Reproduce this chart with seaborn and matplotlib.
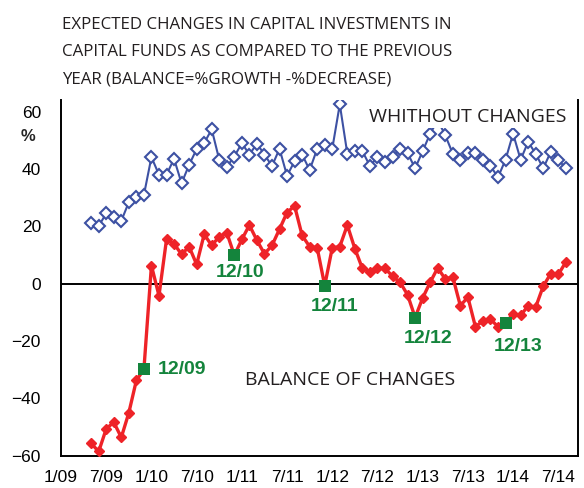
"""
Expected changes in capital investments (balance vs. without changes)
"""

import numpy as np
import pandas as pd
import matplotlib
matplotlib.use("Agg")
import matplotlib.pyplot as plt
import seaborn as sns

# ==================== data ====================
months = pd.date_range("2009-05-01", "2014-08-01", freq="MS")

without_changes = [
    21.3, 20.1, 24.5, 23.3, 21.9, 28.4, 30.3, 30.9,
    44.1, 38.0, 38.0, 43.5, 35.0, 41.4, 46.9, 49.0, 53.8, 43.2, 40.8, 44.3,
    49.0, 45.0, 48.8, 45.0, 41.0, 47.0, 37.6, 42.7, 45.0, 39.6, 47.0, 48.5,
    47.0, 62.5, 45.3, 46.2, 46.2, 41.0, 44.1, 42.3, 44.1, 47.0, 45.5, 40.2,
    46.2, 52.3, 57.0, 51.7, 45.3, 43.2, 45.6, 45.6, 43.2, 41.0, 37.1, 43.2,
    52.3, 43.2, 49.4, 45.3, 40.2, 45.9, 43.2, 40.2,
]

balance = [
    -55.7, -58.5, -50.6, -48.3, -53.6, -45.0, -33.7, -29.9,
    6.3, -4.2, 15.4, 13.9, 10.2, 12.9, 6.7, 17.2, 13.3, 16.4, 17.8, 9.9,
    15.4, 20.4, 15.1, 10.4, 13.3, 19.0, 24.8, 27.1, 16.8, 12.9, 12.5, -0.7,
    12.5, 12.9, 20.4, 12.2, 5.3, 4.1, 5.5, 5.3, 2.6, 0.5, -3.9, -11.8,
    -5.0, 0.5, 5.5, 1.6, 2.3, -7.7, -4.7, -15.0, -13.0, -12.4, -15.0, -13.8,
    -10.5, -11.1, -7.7, -8.2, -0.9, 3.5, 3.2, 7.5,
]

x_tick_labels = ["1/09", "7/09", "1/10", "7/10", "1/11", "7/11",
                 "1/12", "7/12", "1/13", "7/13", "1/14", "7/14"]
y_ticks = [-60, -40, -20, 0, 20, 40, 60]

title = ("EXPECTED CHANGES IN CAPITAL INVESTMENTS IN\n"
         "CAPITAL FUNDS AS COMPARED TO THE PREVIOUS\n"
         "YEAR (BALANCE=%GROWTH -%DECREASE)")

# 月份序号 (0 = 1/09)
df = pd.DataFrame({"month": months, "without": without_changes, "balance": balance})
df["m"] = (df["month"].dt.year - 2009) * 12 + df["month"].dt.month - 1
dec = df[df["month"].dt.month == 12].copy()
dec["label"] = dec["month"].dt.strftime("%m/%y")

# ==================== style ====================
BLUE = "#3d51a3"
RED = "#ee2328"
GREEN = "#14843c"

sns.set_style("white")
plt.rcParams["font.family"] = ["Liberation Sans", "DejaVu Sans"]

fig = plt.figure(figsize=(5.84, 4.88), dpi=100)
ax = fig.add_axes([0.1045, 0.066, 0.885, 0.729])

ax.axhline(0, color="black", linewidth=1.4, zorder=1)

sns.lineplot(data=df, x="m", y="without", ax=ax, color=BLUE, linewidth=1.5,
             marker="D", markersize=6, markerfacecolor="white",
             markeredgecolor=BLUE, markeredgewidth=1.5, zorder=3)
sns.lineplot(data=df, x="m", y="balance", ax=ax, color=RED, linewidth=2.4,
             marker="D", markersize=5, markerfacecolor=RED,
             markeredgecolor=RED, markeredgewidth=1, zorder=4)
sns.scatterplot(data=dec, x="m", y="balance", ax=ax, color=GREEN, marker="s",
                s=80, linewidth=0, zorder=5)

# 标签偏移 (像素)
offsets = [(14, 0), (6, -17), (10, -21), (13, -21), (13, -23)]
aligns = ["left", "center", "center", "center", "center"]
for (_, row), off, ha in zip(dec.iterrows(), offsets, aligns):
    ax.annotate(row["label"], (row["m"], row["balance"]), xytext=off,
                textcoords="offset pixels", ha=ha, va="center",
                color=GREEN, fontsize=14, fontweight="bold", zorder=6)

# 注释文字 (图像坐标, 原点在左下)
ax.text(0.80, 1 - 117 / 488, "WHITHOUT CHANGES", transform=fig.transFigure,
        fontsize=14, family=["Open Sans", "DejaVu Sans"], ha="center", va="center",
        color="#231f20", zorder=7,
        bbox=dict(boxstyle="square,pad=0.08", facecolor="white", edgecolor="none"))
ax.text(350 / 584, 1 - 380 / 488, "BALANCE OF CHANGES", transform=fig.transFigure,
        fontsize=14, family=["Open Sans", "DejaVu Sans"], ha="center", va="center",
        color="#231f20")

# ==================== axes ====================
ax.set_xlim(0, 68.6)
ax.set_ylim(-60, 64)
ax.set_xticks(np.arange(0, 67, 6))
ax.set_xticks(np.arange(0, 68, 3), minor=True)
ax.set_xticklabels(x_tick_labels)
ax.set_yticks(y_ticks)
ax.tick_params(axis="both", which="both", direction="inout", length=9,
               width=1.2, labelsize=12.5, colors="black", pad=6)
ax.tick_params(axis="x", which="minor", length=9)
ax.tick_params(axis="y", pad=10)
ax.set_xlabel("")
ax.set_ylabel("")
for side in ["left", "bottom", "right"]:
    ax.spines[side].set_color("black")
    ax.spines[side].set_linewidth(1.4)
ax.spines["top"].set_visible(False)

fig.text(0.036, 0.72, "%", fontsize=12, fontweight="bold", ha="left", va="center")

fig.text(0.106, 0.965, title, fontsize=12.2, family=["Open Sans", "DejaVu Sans"],
         ha="left", va="top", linespacing=1.95, color="#231f20")

fig.savefig("out.png", dpi=100)
